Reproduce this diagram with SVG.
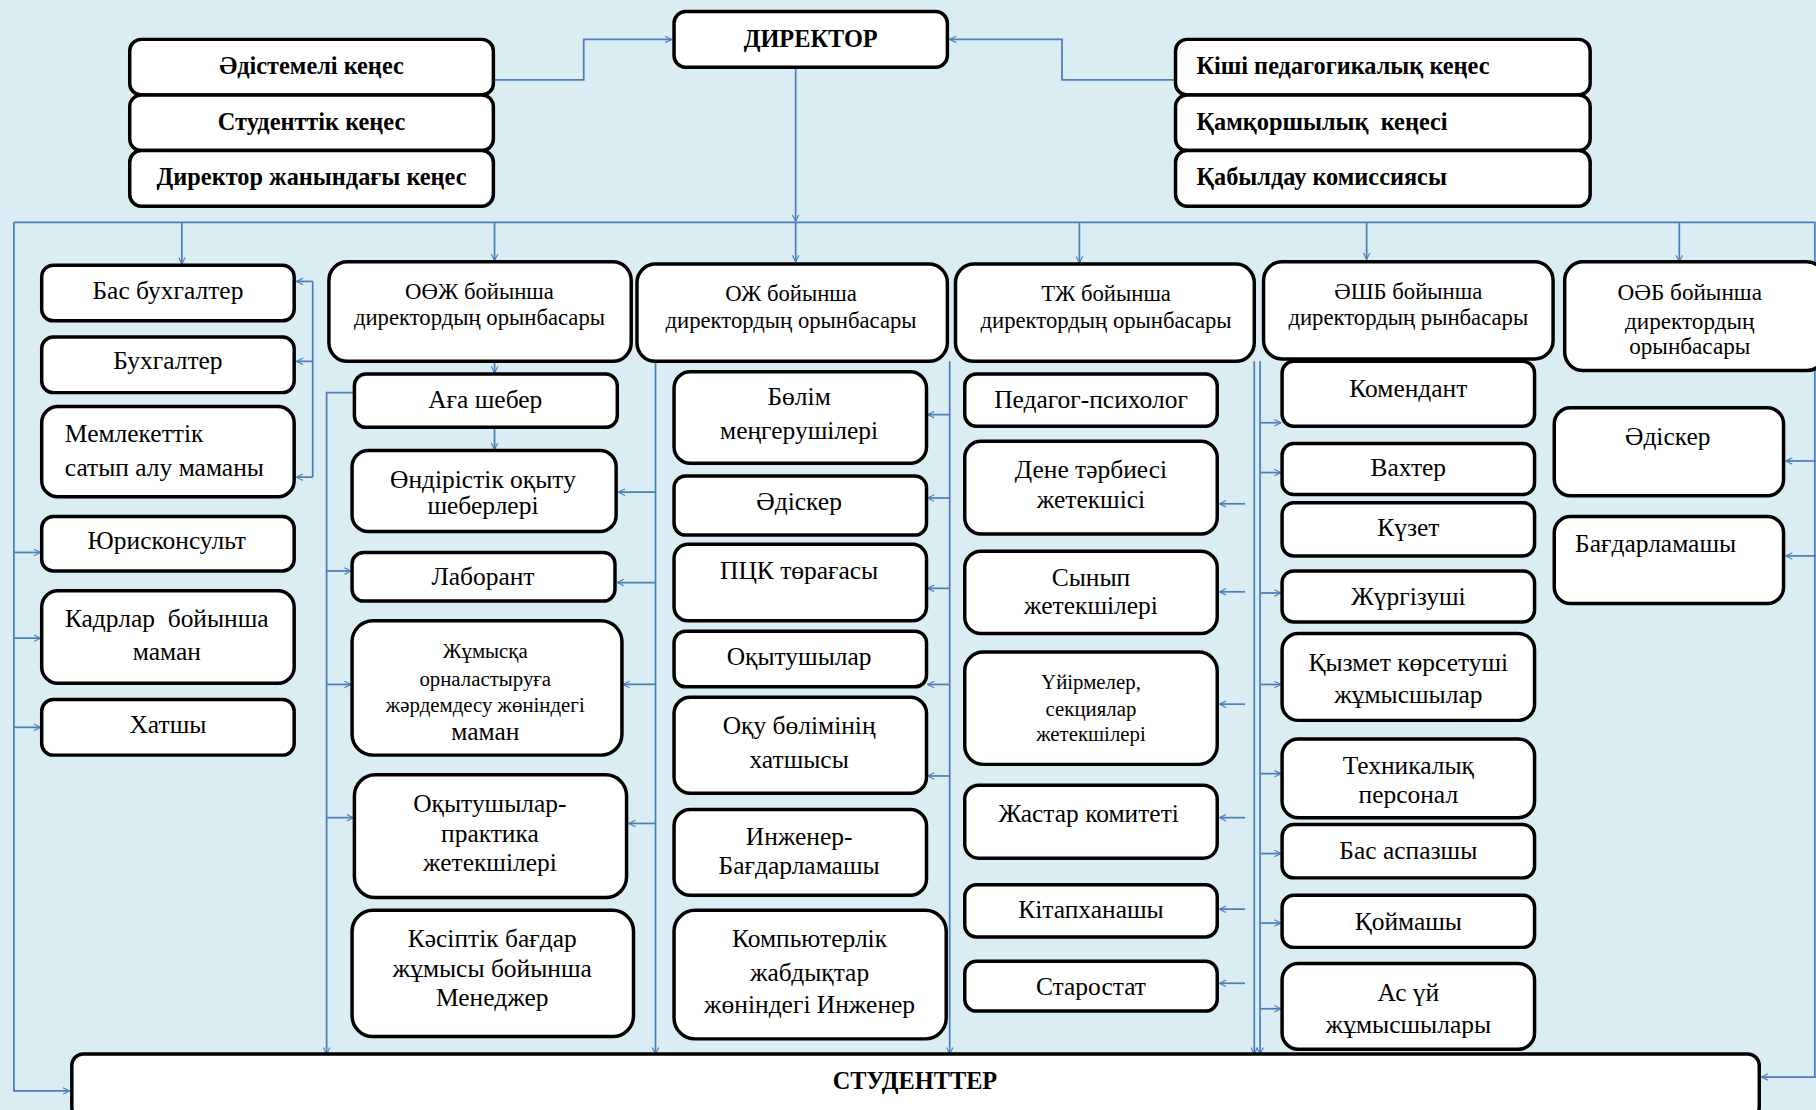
<svg xmlns="http://www.w3.org/2000/svg" width="1816" height="1110" viewBox="0 0 1816 1110">
<defs>
<marker id="ar" viewBox="0 0 10 10" refX="9" refY="5" markerWidth="7" markerHeight="7" orient="auto" markerUnits="userSpaceOnUse">
<path d="M1,1 L9,5 L1,9" fill="none" stroke="#4a7ebb" stroke-width="1.4"/>
</marker>
<style>
.box{fill:#fff;stroke:#000;stroke-width:3}
.t{font-family:"Liberation Serif","Times New Roman",serif;font-size:22px;fill:#000;text-anchor:middle}
.b{font-weight:bold;font-size:21px}
.h{font-size:19.6px}
.s{font-size:18px}
.l{text-anchor:start}
.c{fill:none;stroke:#4a7ebb;stroke-width:1.5}
.a{marker-end:url(#ar)}
</style>
</defs>
<rect x="0" y="0" width="1816" height="1110" fill="#daedf3"/>
<g transform="scale(1.15816)">
<g id="connectors">
<path class="c a" d="M426,69 H504 V34 H580"/>
<path class="c a" d="M1015,69 H917 V34 H820"/>
<path class="c a" d="M687,58 V191"/>
<path class="c a" d="M687,192 V226"/>
<path class="c" d="M12,192 H1567 V930"/>
<path class="c a" d="M157,192 V228"/>
<path class="c a" d="M427,192 V225"/>
<path class="c a" d="M932,192 V227"/>
<path class="c a" d="M1180,192 V224"/>
<path class="c a" d="M1450,192 V226"/>
<path class="c a" d="M12,192 V942 H60"/>
<path class="c a" d="M12,477 H35"/>
<path class="c a" d="M12,551 H35"/>
<path class="c a" d="M12,628 H35"/>
<path class="c" d="M270,243 V412"/>
<path class="c a" d="M270,243 H256"/>
<path class="c a" d="M270,312 H256"/>
<path class="c a" d="M270,412 H256"/>
<path class="c a" d="M427,312 V322"/>
<path class="c a" d="M427,369 V388"/>
<path class="c a" d="M313,339 H282 V910"/>
<path class="c" d="M250,910 H282"/>
<path class="c a" d="M282,493 H303"/>
<path class="c a" d="M282,591 H303"/>
<path class="c a" d="M282,706 H305"/>
<path class="c a" d="M566,312 V910"/>
<path class="c a" d="M566,425 H534"/>
<path class="c a" d="M566,503 H533"/>
<path class="c a" d="M566,591 H538"/>
<path class="c a" d="M566,711 H543"/>
<path class="c a" d="M820,312 V910"/>
<path class="c a" d="M820,358 H801"/>
<path class="c a" d="M820,430 H801"/>
<path class="c a" d="M820,508 H801"/>
<path class="c a" d="M820,591 H801"/>
<path class="c a" d="M820,670 H801"/>
<path class="c a" d="M1083,312 V910"/>
<path class="c a" d="M1075,435 H1053"/>
<path class="c a" d="M1075,511 H1053"/>
<path class="c a" d="M1075,608 H1053"/>
<path class="c a" d="M1075,706 H1053"/>
<path class="c a" d="M1075,785 H1053"/>
<path class="c a" d="M1075,849 H1053"/>
<path class="c a" d="M1088,312 V910"/>
<path class="c a" d="M1088,365 H1106"/>
<path class="c a" d="M1088,408 H1106"/>
<path class="c a" d="M1088,512 H1106"/>
<path class="c a" d="M1088,591 H1106"/>
<path class="c a" d="M1088,668 H1106"/>
<path class="c a" d="M1088,737 H1106"/>
<path class="c a" d="M1088,797 H1106"/>
<path class="c a" d="M1088,871 H1106"/>
<path class="c a" d="M1568,398 H1542"/>
<path class="c a" d="M1568,480 H1542"/>
<path class="c a" d="M1568,930 H1521"/>
</g>

<g id="director"><rect class="box" x="582" y="10" width="236" height="48" rx="10"/><text class="t b" x="700" y="41">ДИРЕКТОР</text></g>

<g id="adistemeli"><rect class="box" x="112" y="34" width="314" height="48" rx="10"/><text class="t b" x="269" y="64">Әдістемелі кеңес</text></g>
<g id="studenttik"><rect class="box" x="112" y="82" width="314" height="48" rx="10"/><text class="t b" x="269" y="112">Студенттік кеңес</text></g>
<g id="direktor-kenes"><rect class="box" x="112" y="130" width="314" height="48" rx="10"/><text class="t b" x="269" y="160">Директор жанындағы кеңес</text></g>

<g id="kishi"><rect class="box" x="1015" y="34" width="358" height="48" rx="10"/><text class="t b l" x="1033" y="64">Кіші педагогикалық кеңес</text></g>
<g id="qamqor"><rect class="box" x="1015" y="82" width="358" height="48" rx="10"/><text class="t b l" x="1033" y="112" xml:space="preserve">Қамқоршылық  кеңесі</text></g>
<g id="qabyldau"><rect class="box" x="1015" y="130" width="358" height="48" rx="10"/><text class="t b l" x="1033" y="160">Қабылдау комиссиясы</text></g>

<g id="bas-buh"><rect class="box" x="36" y="229" width="218" height="48" rx="10"/><text class="t" x="145" y="258">Бас бухгалтер</text></g>
<g id="buh"><rect class="box" x="36" y="291" width="218" height="48" rx="10"/><text class="t" x="145" y="319">Бухгалтер</text></g>
<g id="memlek"><rect class="box" x="36" y="351" width="218" height="78" rx="14"/><text class="t l" x="56" y="382">Мемлекеттік</text><text class="t l" x="56" y="411">сатып алу маманы</text></g>
<g id="juris"><rect class="box" x="36" y="446" width="218" height="47" rx="10"/><text class="t" x="144" y="474">Юрисконсульт</text></g>
<g id="kadr"><rect class="box" x="36" y="510" width="218" height="80" rx="14"/><text class="t" x="144" y="541" xml:space="preserve">Кадрлар  бойынша</text><text class="t" x="144" y="570">маман</text></g>
<g id="hatshy"><rect class="box" x="36" y="604" width="218" height="48" rx="10"/><text class="t" x="145" y="633">Хатшы</text></g>

<g id="ooj"><rect class="box" x="284" y="226" width="261" height="86" rx="16"/><text class="t h" x="414" y="258">ОӨЖ бойынша</text><text class="t h" x="414" y="281">директордың орынбасары</text></g>
<g id="aga"><rect class="box" x="306" y="323" width="227" height="46" rx="10"/><text class="t" x="419" y="352">Аға шебер</text></g>
<g id="ondiris"><rect class="box" x="304" y="389" width="228" height="70" rx="14"/><text class="t" x="417" y="421">Өндірістік оқыту</text><text class="t" x="417" y="444">шеберлері</text></g>
<g id="laborant"><rect class="box" x="304" y="477" width="227" height="42" rx="10"/><text class="t" x="417" y="505">Лаборант</text></g>
<g id="jumysqa"><rect class="box" x="304" y="536" width="233" height="116" rx="18"/><text class="t s" x="419" y="568">Жұмысқа</text><text class="t s" x="419" y="592">орналастыруға</text><text class="t s" x="419" y="615">жәрдемдесу жөніндегі</text><text class="t" x="419" y="639">маман</text></g>
<g id="oqyt-prak"><rect class="box" x="306" y="669" width="235" height="106" rx="18"/><text class="t" x="423" y="701">Оқытушылар-</text><text class="t" x="423" y="727">практика</text><text class="t" x="423" y="752">жетекшілері</text></g>
<g id="kasiptik"><rect class="box" x="304" y="786" width="243" height="109" rx="18"/><text class="t" x="425" y="818">Кәсіптік бағдар</text><text class="t" x="425" y="844">жұмысы бойынша</text><text class="t" x="425" y="869">Менеджер</text></g>

<g id="oj"><rect class="box" x="550" y="228" width="268" height="84" rx="16"/><text class="t h" x="683" y="260">ОЖ бойынша</text><text class="t h" x="683" y="283">директордың орынбасары</text></g>
<g id="bolim"><rect class="box" x="582" y="321" width="218" height="79" rx="14"/><text class="t" x="690" y="350">Бөлім</text><text class="t" x="690" y="379">меңгерушілері</text></g>
<g id="adisker1"><rect class="box" x="582" y="411" width="218" height="51" rx="10"/><text class="t" x="690" y="440">Әдіскер</text></g>
<g id="pck"><rect class="box" x="582" y="470" width="218" height="66" rx="12"/><text class="t" x="690" y="500">ПЦК төрағасы</text></g>
<g id="oqytushylar"><rect class="box" x="582" y="545" width="218" height="48" rx="10"/><text class="t" x="690" y="574">Оқытушылар</text></g>
<g id="oqu-hatshy"><rect class="box" x="582" y="602" width="218" height="83" rx="14"/><text class="t" x="690" y="634">Оқу бөлімінің</text><text class="t" x="690" y="663">хатшысы</text></g>
<g id="inj-bag"><rect class="box" x="582" y="699" width="218" height="74" rx="14"/><text class="t" x="690" y="730">Инженер-</text><text class="t" x="690" y="755">Бағдарламашы</text></g>
<g id="komp"><rect class="box" x="582" y="786" width="235" height="111" rx="18"/><text class="t" x="699" y="818">Компьютерлік</text><text class="t" x="699" y="847">жабдықтар</text><text class="t" x="699" y="875">жөніндегі Инженер</text></g>

<g id="tj"><rect class="box" x="825" y="228" width="258" height="84" rx="16"/><text class="t h" x="955" y="260">ТЖ бойынша</text><text class="t h" x="955" y="283">директордың орынбасары</text></g>
<g id="pedagog"><rect class="box" x="833" y="323" width="218" height="45" rx="10"/><text class="t" x="942" y="352">Педагог-психолог</text></g>
<g id="dene"><rect class="box" x="833" y="381" width="218" height="80" rx="14"/><text class="t" x="942" y="413">Дене тәрбиесі</text><text class="t" x="942" y="439">жетекшісі</text></g>
<g id="synyp"><rect class="box" x="833" y="476" width="218" height="71" rx="14"/><text class="t" x="942" y="506">Сынып</text><text class="t" x="942" y="530">жетекшілері</text></g>
<g id="uirme"><rect class="box" x="833" y="563" width="218" height="97" rx="16"/><text class="t s" x="942" y="595">Үйірмелер,</text><text class="t s" x="942" y="618">секциялар</text><text class="t s" x="942" y="640">жетекшілері</text></g>
<g id="jastar"><rect class="box" x="833" y="678" width="218" height="63" rx="12"/><text class="t" x="940" y="710">Жастар комитеті</text></g>
<g id="kitap"><rect class="box" x="833" y="764" width="218" height="45" rx="10"/><text class="t" x="942" y="793">Кітапханашы</text></g>
<g id="starostat"><rect class="box" x="833" y="830" width="218" height="43" rx="10"/><text class="t" x="942" y="859">Старостат</text></g>

<g id="ashb"><rect class="box" x="1091" y="226" width="250" height="84" rx="16"/><text class="t h" x="1216" y="258">ӘШБ бойынша</text><text class="t h" x="1216" y="281">директордың рынбасары</text></g>
<g id="komendant"><rect class="box" x="1107" y="312" width="218" height="56" rx="10"/><text class="t" x="1216" y="343">Комендант</text></g>
<g id="vahter"><rect class="box" x="1107" y="383" width="218" height="44" rx="10"/><text class="t" x="1216" y="411">Вахтер</text></g>
<g id="kuzet"><rect class="box" x="1107" y="434" width="218" height="46" rx="10"/><text class="t" x="1216" y="463">Күзет</text></g>
<g id="jurgizushi"><rect class="box" x="1107" y="493" width="218" height="44" rx="10"/><text class="t" x="1216" y="522">Жүргізуші</text></g>
<g id="qyzmet"><rect class="box" x="1107" y="547" width="218" height="75" rx="14"/><text class="t" x="1216" y="579">Қызмет көрсетуші</text><text class="t" x="1216" y="607">жұмысшылар</text></g>
<g id="tehnik"><rect class="box" x="1107" y="638" width="218" height="68" rx="14"/><text class="t" x="1216" y="668">Техникалық</text><text class="t" x="1216" y="693">персонал</text></g>
<g id="bas-aspaz"><rect class="box" x="1107" y="712" width="218" height="46" rx="10"/><text class="t" x="1216" y="742">Бас аспазшы</text></g>
<g id="qoimashy"><rect class="box" x="1107" y="773" width="218" height="45" rx="10"/><text class="t" x="1216" y="803">Қоймашы</text></g>
<g id="as-ui"><rect class="box" x="1107" y="832" width="218" height="74" rx="14"/><text class="t" x="1216" y="864">Ас үй</text><text class="t" x="1216" y="892">жұмысшылары</text></g>

<g id="oab"><rect class="box" x="1351" y="226" width="225" height="94" rx="16"/><text class="t" x="1459" y="259" style="font-size:20px">ОӘБ бойынша</text><text class="t" x="1459" y="284" style="font-size:20px">директордың</text><text class="t" x="1459" y="306" style="font-size:20px">орынбасары</text></g>
<g id="adisker2"><rect class="box" x="1342" y="352" width="198" height="76" rx="14"/><text class="t" x="1440" y="384">Әдіскер</text></g>
<g id="bagdarlamashy"><rect class="box" x="1342" y="446" width="198" height="75" rx="14"/><text class="t l" x="1360" y="477">Бағдарламашы</text></g>

<g id="studentter"><rect class="box" x="62" y="910" width="1457" height="56" rx="10"/><text class="t b" x="790" y="940">СТУДЕНТТЕР</text></g>
</g>
</svg>
